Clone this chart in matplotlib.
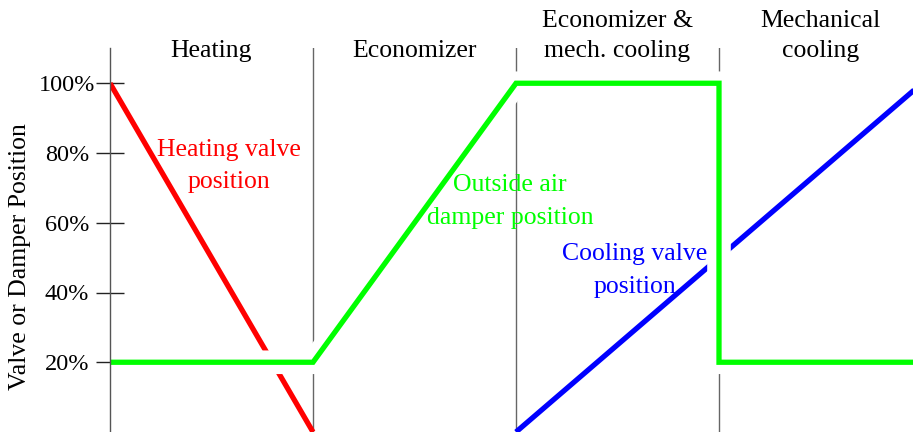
import matplotlib
matplotlib.use("Agg")
import matplotlib.pyplot as plt
import matplotlib.patheffects as pe

plt.rcParams['font.family'] = ['Liberation Serif', 'DejaVu Serif']

# ---- data ----
region_titles = [["Heating"], ["Economizer"], ["Economizer &", "mech. cooling"], ["Mechanical", "cooling"]]
region_centers = [0.5, 1.5, 2.5, 3.5]
dividers = [1, 2, 3]

heating_x = [0, 1]
heating_y = [1.0, 0.0]
oa_x = [0, 1, 2, 3, 3, 4]
oa_y = [0.2, 0.2, 1.0, 1.0, 0.2, 0.2]
cooling_x = [2, 4]
cooling_y = [0.0, 1.0]

yticks = [0.2, 0.4, 0.6, 0.8, 1.0]
ytick_labels = ["20%", "40%", "60%", "80%", "100%"]
ylabel = "Valve or Damper Position"

heating_label = ["Heating valve", "position"]
oa_label = ["Outside air", "damper position"]
cooling_label = ["Cooling valve", "position"]

# ---- figure ----
W, H = 913, 432
fig = plt.figure(figsize=(W / 100, H / 100), dpi=100)
PX = 348.75  # pixels per unit on y
ytop = (H - 48) / PX
ax = fig.add_axes([110 / W, 0, 812 / W, (H - 48) / H])
ax.set_xlim(0, 4)
ax.set_ylim(0, ytop)

def yd(py):
    return (H - py) / PX

for s in ['top', 'right', 'bottom']:
    ax.spines[s].set_visible(False)
ax.spines['left'].set_color('#555555')
ax.spines['left'].set_linewidth(1.0)
ax.spines['left'].set_zorder(5)
ax.set_xticks([])
ax.set_yticks(yticks)
ax.set_yticklabels(ytick_labels, fontsize=17.5)
ax.tick_params(axis='y', direction='inout', length=20.5, width=1.0, color='#222222', pad=20.7)
for lab in ax.get_yticklabels():
    lab.set_horizontalalignment('center')

for d in dividers:
    ax.plot([d, d], [0, ytop], color='#666666', lw=1.0, zorder=1)

lw = 3.8
ax.plot(heating_x, heating_y, color='#ff0000', lw=lw, solid_capstyle='butt', zorder=2)
ax.plot(cooling_x, cooling_y, color='#0000ff', lw=lw, solid_capstyle='butt', zorder=2)
ax.plot(oa_x, oa_y, color='#00ff00', lw=lw, solid_capstyle='butt', solid_joinstyle='miter', zorder=3,
        path_effects=[pe.Stroke(linewidth=17, foreground='white'), pe.Normal()])

fs = 18.5
# region titles
for cx, lines in zip(region_centers, region_titles):
    base = [57] if len(lines) == 1 else [27, 57]
    for line, b in zip(lines, base):
        ax.text(cx, yd(b), line, ha='center', va='baseline', fontsize=fs, clip_on=False, zorder=6)

def put(lines, cx_px, bases, color):
    for line, b in zip(lines, bases):
        ax.text((cx_px - 110) / 203, yd(b), line, ha='center', va='baseline', fontsize=fs,
                color=color, zorder=6)

put(heating_label, 229, [156, 188], '#ff0000')
put(oa_label, 510, [191, 224], '#00ff00')
put(cooling_label, 635, [260, 293], '#0000ff')

fig.text(20 / W, 1 - 257 / H, ylabel, rotation=90, ha='center', va='center', fontsize=fs)

fig.savefig('out.png', dpi=100)
